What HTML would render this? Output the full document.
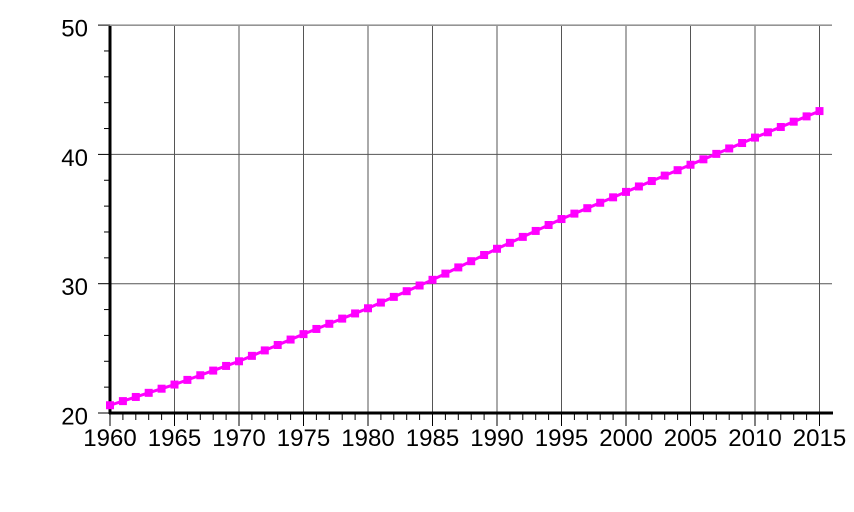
<!DOCTYPE html>
<html><head><meta charset="utf-8"><style>
html,body{margin:0;padding:0;background:#fff;}
svg{display:block;font-family:"Liberation Sans",sans-serif;}
</style></head><body>
<svg id="s" width="854" height="512" xmlns="http://www.w3.org/2000/svg"></svg>
<script>
const s=document.getElementById('s');
const X0=110,PX=12.9,Y0=413,PY=12.93;
const xp=y=>X0+(y-1960)*PX, yp=v=>Y0-(v-20)*PY;
let h='';
for(let v=30;v<=50;v+=10)h+=`<line x1="${X0}" x2="832" y1="${yp(v)}" y2="${yp(v)}" stroke="#555" stroke-width="1"/>`;
for(let y=1965;y<=2015;y+=5)h+=`<line x1="${xp(y)}" x2="${xp(y)}" y1="26" y2="${Y0}" stroke="#555" stroke-width="1"/>`;
for(let v=20;v<=50;v+=2){const maj=v%10==0;h+=`<line x1="${maj?98:104}" x2="${X0}" y1="${yp(v)}" y2="${yp(v)}" stroke="#000" stroke-width="1"/>`;}
for(let v=20;v<=50;v+=10)h+=`<text x="88" y="${yp(v)+11.5}" font-size="24" text-anchor="end">${v}</text>`;
for(let y=1960;y<=2015;y++){const maj=y%5==0;h+=`<line x1="${xp(y)}" x2="${xp(y)}" y1="${Y0}" y2="${Y0+(maj?13:7)}" stroke="#000" stroke-width="1"/>`;}
for(let y=1960;y<=2015;y+=5)h+=`<text x="${xp(y)}" y="446" font-size="24" text-anchor="middle">${y}</text>`;
h+=`<line x1="${X0}" x2="${X0}" y1="26" y2="${Y0+1}" stroke="#000" stroke-width="3"/>`;
h+=`<line x1="${X0-1}" x2="833" y1="${Y0}" y2="${Y0}" stroke="#000" stroke-width="3"/>`;
const k=[[1960,20.6],[1965,22.2],[1970,24.0],[1975,26.1],[1980,28.1],[1985,30.3],[1990,32.7],[1995,35.0],[2000,37.1],[2005,39.2],[2010,41.3],[2015,43.35]];
let pts=[];
for(let y=1960;y<=2015;y++){let i=Math.min(Math.floor((y-1960)/5),10);let [a,va]=k[i],[b,vb]=k[i+1];pts.push([xp(y),yp(va+(vb-va)*(y-a)/5)]);}
h+=`<polyline points="${pts.map(p=>p.join(',')).join(' ')}" fill="none" stroke="#f0f" stroke-width="3"/>`;
for(const p of pts)h+=`<rect x="${p[0]-4}" y="${p[1]-4}" width="8" height="8" fill="#f0f"/>`;
s.innerHTML=h;
</script>
</body></html>
